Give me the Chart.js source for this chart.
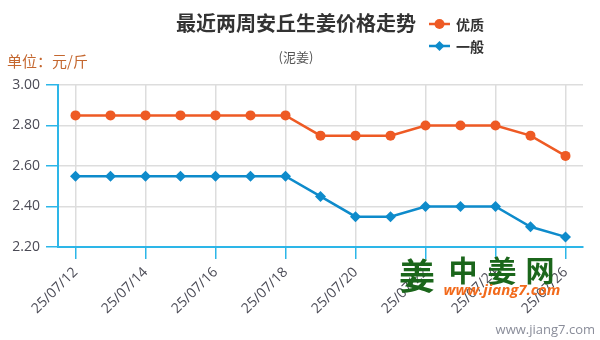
<!DOCTYPE html>
<html>
<head>
<meta charset="utf-8">
<script src="https://cdn.jsdelivr.net/npm/chart.js@4/dist/chart.umd.min.js"></script>
<style>
html,body{margin:0;padding:0;background:#fff;}
#wrap{width:600px;height:340px;position:relative;}
</style>
</head>
<body>
<div id="wrap"><canvas id="c" width="600" height="340"></canvas></div>
<script>
const titleText = '最近两周安丘生姜价格走势';
const subtitleText = '(泥姜)';
const unitText = '单位：元/斤';
const categories = ['25/07/12','25/07/13','25/07/14','25/07/15','25/07/16','25/07/17','25/07/18','25/07/19','25/07/20','25/07/21','25/07/22','25/07/23','25/07/24','25/07/25','25/07/26'];
const seriesNames = ['优质','一般'];
const premiumValues = [2.85,2.85,2.85,2.85,2.85,2.85,2.85,2.75,2.75,2.75,2.80,2.80,2.80,2.75,2.65];
const normalValues  = [2.55,2.55,2.55,2.55,2.55,2.55,2.55,2.45,2.35,2.35,2.40,2.40,2.40,2.30,2.25];
const yTicks = [2.20,2.40,2.60,2.80,3.00];

const ORANGE = '#ee5a24';
const BLUE = '#0e8bcb';
const AXIS = '#2db6e8';
const GRID = '#dddddd';
const LATIN = '"Open Sans", "Noto Sans CJK SC", sans-serif';
const CJK = '"Noto Sans CJK SC", "Open Sans", sans-serif';

const decor = {
  id: 'decor',
  afterDraw(chart) {
    const ctx = chart.ctx;
    ctx.save();
    // title
    ctx.textAlign = 'center';
    ctx.textBaseline = 'middle';
    ctx.fillStyle = '#333333';
    ctx.font = 'bold 20px ' + CJK;
    ctx.fillText(titleText, 296, 23);
    ctx.font = '13px ' + CJK;
    ctx.fillStyle = '#555555';
    ctx.fillText(subtitleText, 296, 57);
    // unit
    ctx.textAlign = 'left';
    ctx.font = '15px ' + CJK;
    ctx.fillStyle = '#c4672f';
    ctx.fillText(unitText, 7, 61);
    // legend
    const ds = chart.data.datasets;
    const rows = [24, 46];
    ds.forEach((d, i) => {
      const y = rows[i];
      ctx.strokeStyle = d.borderColor;
      ctx.lineWidth = 2.5;
      ctx.beginPath();
      ctx.moveTo(429, y); ctx.lineTo(450, y); ctx.stroke();
      ctx.fillStyle = d.borderColor;
      ctx.beginPath();
      if (d.pointStyle === 'circle') {
        ctx.arc(439.5, y, 5, 0, Math.PI * 2);
      } else {
        ctx.moveTo(439.5, y - 5); ctx.lineTo(444.5, y); ctx.lineTo(439.5, y + 5); ctx.lineTo(434.5, y);
        ctx.closePath();
      }
      ctx.fill();
      ctx.fillStyle = '#333333';
      ctx.font = 'bold 14px ' + CJK;
      ctx.textAlign = 'left';
      ctx.fillText(d.label, 456, y + 1);
    });
    // watermark
    ctx.fillStyle = '#1b661b';
    ctx.textAlign = 'center';
    ctx.font = 'bold 36px ' + CJK;
    ctx.fillText('姜', 417, 276);
    ctx.font = 'bold 29px ' + CJK;
    ctx.fillText('中', 463, 271);
    ctx.fillText('姜', 502, 271);
    ctx.fillText('网', 540, 271);
    ctx.fillStyle = '#f26a1b';
    ctx.font = 'italic bold 15px ' + LATIN;
    ctx.fillText('www.jiang7.com', 502, 291);
    ctx.fillStyle = '#8a8d9a';
    ctx.font = '13px ' + LATIN;
    ctx.textAlign = 'right';
    ctx.fillText('www.jiang7.com', 595, 330);
    ctx.restore();
  }
};

new Chart(document.getElementById('c'), {
  type: 'line',
  data: {
    labels: categories,
    datasets: [
      { label: seriesNames[0], data: premiumValues, borderColor: ORANGE, backgroundColor: ORANGE,
        pointStyle: 'circle', pointRadius: 5, pointBorderWidth: 0, borderWidth: 2.5, tension: 0 },
      { label: seriesNames[1], data: normalValues, borderColor: BLUE, backgroundColor: BLUE,
        pointStyle: 'rectRot', pointRadius: 5.5, pointBorderWidth: 0, borderWidth: 2.5, tension: 0 }
    ]
  },
  options: {
    responsive: false,
    animation: false,
    layout: { padding: { left: 0, right: 17, top: 85, bottom: 0 } },
    plugins: { legend: { display: false }, title: { display: false }, tooltip: { enabled: false } },
    scales: {
      x: {
        offset: true,
        afterFit(s) { s.height = 93; },
        border: { color: AXIS, width: 2 },
        grid: {
          offset: false,
          lineWidth: 1.5,
          color: c => (c.index % 2 === 0 ? GRID : 'rgba(0,0,0,0)'),
          tickColor: c => (c.index % 2 === 0 ? AXIS : 'rgba(0,0,0,0)'),
          tickLength: 12,
          tickWidth: 1.5
        },
        ticks: {
          autoSkip: false,
          minRotation: 45, maxRotation: 45,
          padding: 5,
          color: '#4a4a55',
          font: { family: LATIN, size: 14 },
          callback(v, i) { return i % 2 === 0 ? categories[i] : ''; }
        }
      },
      y: {
        min: yTicks[0], max: yTicks[yTicks.length - 1],
        afterFit(s) { s.width = 58; },
        afterBuildTicks(s) { s.ticks = yTicks.map(v => ({ value: v })); },
        border: { color: AXIS, width: 2 },
        grid: { color: GRID, lineWidth: 1.5, tickColor: AXIS, tickLength: 12, tickWidth: 1.5 },
        ticks: {
          padding: 6,
          color: '#4a4a55',
          font: { family: LATIN, size: 14 },
          callback(v) { return Number(v).toFixed(2); }
        }
      }
    }
  },
  plugins: [decor]
});
</script>
</body>
</html>
